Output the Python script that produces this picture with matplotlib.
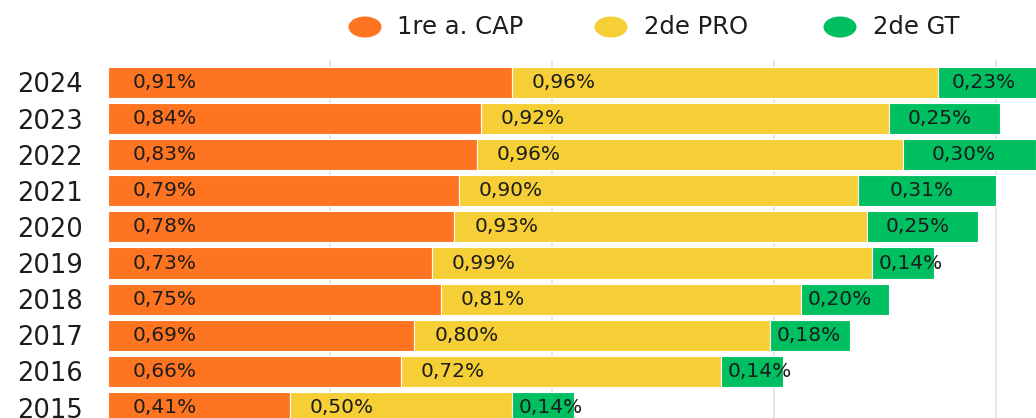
import matplotlib.pyplot as plt
from matplotlib.patches import Ellipse

# Share per year, by track (values in %)
years = ["2024", "2023", "2022", "2021", "2020", "2019", "2018", "2017", "2016", "2015"]
cap_1re = [0.91, 0.84, 0.83, 0.79, 0.78, 0.73, 0.75, 0.69, 0.66, 0.41]
pro_2de = [0.96, 0.92, 0.96, 0.90, 0.93, 0.99, 0.81, 0.80, 0.72, 0.50]
gt_2de = [0.23, 0.25, 0.30, 0.31, 0.25, 0.14, 0.20, 0.18, 0.14, 0.14]
series_names = ["1re a. CAP", "2de PRO", "2de GT"]

ORANGE = "#ff7420"
YELLOW = "#f5cf35"
GREEN = "#00bf60"
TEXT = "#1c1c1c"

W, H = 1036, 418


def fmt(v):
    return f"{v:.2f}".replace(".", ",") + "%"


plt.rcParams["font.family"] = "DejaVu Sans"

fig = plt.figure(figsize=(W / 100, H / 100), dpi=100)
ax = fig.add_axes([108 / W, 0, (W - 108) / W, (H - 60) / H])

pos = list(range(len(years)))
bar_h = 0.86

ax.barh(pos, cap_1re, height=bar_h, color=ORANGE, edgecolor="white", linewidth=0.8, zorder=2)
ax.barh(pos, pro_2de, left=cap_1re, height=bar_h, color=YELLOW, edgecolor="white",
        linewidth=0.8, zorder=2)
left_gt = [a + b for a, b in zip(cap_1re, pro_2de)]
ax.barh(pos, gt_2de, left=left_gt, height=bar_h, color=GREEN, edgecolor="white",
        linewidth=0.8, zorder=2)

# value labels inside each segment
for i in pos:
    ax.text(0.056, i, fmt(cap_1re[i]), va="center", ha="left", fontsize=14.5, color=TEXT, zorder=3)
    ax.text(cap_1re[i] + 0.045, i, fmt(pro_2de[i]), va="center", ha="left", fontsize=14.5,
            color=TEXT, zorder=3)
    off = max(0.015, (gt_2de[i] - 0.169) / 2)
    ax.text(left_gt[i] + off, i, fmt(gt_2de[i]), va="center", ha="left", fontsize=14.5,
            color=TEXT, zorder=3)

ax.set_xlim(0, 2.09)
ax.set_ylim(9.29, -0.62)
ax.set_xticks([0.5, 1.0, 1.5, 2.0])
ax.xaxis.grid(True, color="#e2e2e2", linewidth=1.2, zorder=0)
ax.set_axisbelow(True)
ax.tick_params(axis="x", length=0, labelbottom=False)
ax.set_yticks(pos)
ax.set_yticklabels(years, fontsize=18.5, color=TEXT)
ax.tick_params(axis="y", length=0, pad=18)
for s in ax.spines.values():
    s.set_visible(False)

# legend row above the bars
legend_items = [(365, 397, ORANGE), (611, 644, YELLOW), (840, 873, GREEN)]
y_leg = 1 - 27 / H
for (cx, tx, col), name in zip(legend_items, series_names):
    fig.add_artist(Ellipse((cx / W, y_leg), 33 / W, 21 / H, transform=fig.transFigure,
                           facecolor=col, edgecolor="none"))
    fig.text(tx / W, y_leg, name, va="center", ha="left", fontsize=17.5, color=TEXT)

fig.savefig("out.png", dpi=100)
